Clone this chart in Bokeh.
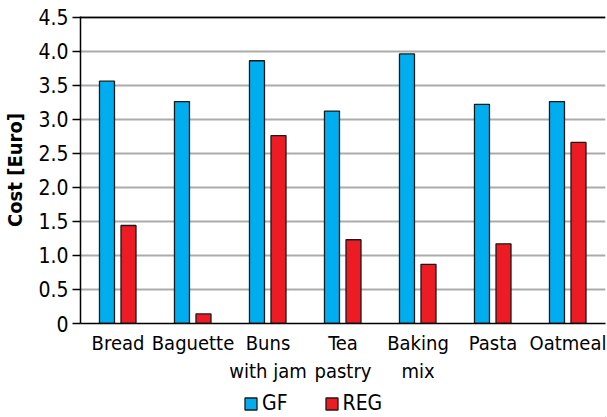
from bokeh.plotting import figure
from bokeh.layouts import column
from bokeh.models import FactorRange, Range1d, FixedTicker, Legend, LegendItem, Span, NumeralTickFormatter
from bokeh.transform import dodge
from bokeh.embed import file_html
from bokeh.resources import INLINE

categories = ["Bread", "Baguette", "Buns\nwith jam", "Tea\npastry", "Baking\nmix", "Pasta", "Oatmeal"]
gf = [3.56, 3.26, 3.86, 3.12, 3.96, 3.22, 3.26]
reg = [1.44, 0.14, 2.76, 1.23, 0.87, 1.17, 2.66]
y_ticks = [0, 0.5, 1.0, 1.5, 2.0, 2.5, 3.0, 3.5, 4.0, 4.5]
series = ["GF", "REG"]

FONT = "DejaVu Sans Condensed"
BLUE = "#00AEEF"
RED = "#ED1C24"
EDGE = "#1a1a1a"

p = figure(width=607, height=386, x_range=FactorRange(*categories), y_range=Range1d(0, 4.51),
           output_backend="svg", toolbar_location=None,
           min_border_left=80, min_border_right=2, min_border_top=16, min_border_bottom=58)
p.outline_line_color = None
p.background_fill_color = "white"
p.border_fill_color = "white"

src = dict(cat=categories, gf=gf, reg=reg)
p.vbar(x=dodge("cat", -0.147, range=p.x_range), top="gf", width=0.2, source=src,
       fill_color=BLUE, line_color=EDGE, line_width=1.3)
p.vbar(x=dodge("cat", 0.14, range=p.x_range), top="reg", width=0.2, source=src,
       fill_color=RED, line_color=EDGE, line_width=1.3)

p.add_layout(Span(location=4.5, dimension="width", line_color="black", line_width=2))

p.xgrid.grid_line_color = None
p.ygrid.grid_line_color = "#ababab"
p.ygrid.grid_line_width = 2
p.ygrid.ticker = FixedTicker(ticks=y_ticks)

p.yaxis.ticker = FixedTicker(ticks=y_ticks)
p.yaxis.formatter = NumeralTickFormatter(format="0.0")
p.yaxis.major_label_overrides = {0: "0"}
p.yaxis.minor_tick_line_color = None
p.yaxis.major_tick_out = 8
p.yaxis.major_tick_in = 0
p.yaxis.major_tick_line_width = 1.5
p.yaxis.axis_line_width = 1.5
p.yaxis.axis_line_color = "black"
p.yaxis.major_label_text_font = FONT
p.yaxis.major_label_text_font_size = "21px"
p.yaxis.major_label_text_color = "black"
p.yaxis.major_label_standoff = 4
p.yaxis.axis_label = "Cost [Euro]"
p.yaxis.axis_label_text_font = FONT
p.yaxis.axis_label_text_font_style = "bold"
p.yaxis.axis_label_text_font_size = "20px"
p.yaxis.axis_label_text_color = "black"
p.yaxis.axis_label_standoff = 8

p.xaxis.major_tick_line_color = None
p.xaxis.minor_tick_line_color = None
p.xaxis.axis_line_width = 1.5
p.xaxis.axis_line_color = "black"
p.xaxis.major_label_text_font = FONT
p.xaxis.major_label_text_font_size = "20px"
p.xaxis.major_label_text_color = "black"
p.xaxis.major_label_standoff = 1

# legend strip
lf = figure(width=607, height=31, x_range=Range1d(0, 1), y_range=Range1d(0, 1),
            output_backend="svg", toolbar_location=None,
            min_border_left=0, min_border_right=0, min_border_top=0, min_border_bottom=0)
lf.axis.visible = False
lf.grid.visible = False
lf.outline_line_color = None
lr1 = lf.vbar(x=[100], bottom=[-20], top=[-10], width=0.1, fill_color=BLUE, line_color=EDGE, line_width=1.3)
lr2 = lf.vbar(x=[100], bottom=[-20], top=[-10], width=0.1, fill_color=RED, line_color=EDGE, line_width=1.3)
legend = Legend(items=[LegendItem(label=series[0], renderers=[lr1]), LegendItem(label=series[1], renderers=[lr2])],
                orientation="horizontal", location=(163, 2),
                label_text_font=FONT, label_text_font_size="21px", label_text_color="black",
                glyph_width=15, glyph_height=15, label_standoff=4, spacing=36,
                border_line_color=None, background_fill_alpha=0, padding=0, margin=0)
lf.add_layout(legend, "center")

layout = column(p, lf, spacing=0)
open("out.html", "w").write(file_html(layout, INLINE))
